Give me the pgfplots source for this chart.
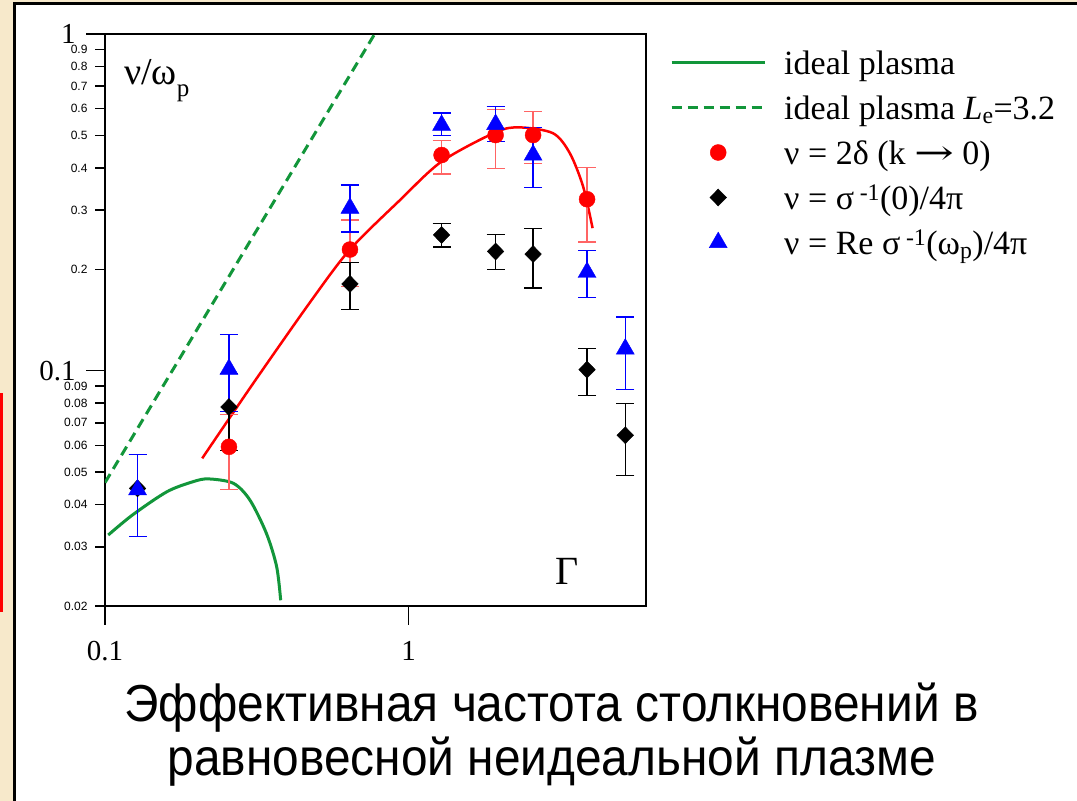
\documentclass[border=0pt]{standalone}
\usepackage{pgfplots}
\pgfplotsset{compat=1.18}
\usepackage{fontspec}
\setmainfont{Liberation Serif}
\newfontfamily\sans{Liberation Sans}
\newfontfamily\dejavu{DejaVu Serif}
\newfontfamily\narrow[FakeStretch=0.92]{Liberation Sans}
\definecolor{bgbeige}{RGB}{247,233,203}
\definecolor{pgreen}{RGB}{18,150,58}
\definecolor{lred}{RGB}{255,100,100}

\pgfplotstableread{
x y ep em
0.256 0.0594 0.0147 0.0151
0.641 0.229 0.051 0.051
1.284 0.437 0.046 0.053
1.934 0.501 0.096 0.103
2.57 0.501 0.088 0.089
3.87 0.323 0.078 0.082
}\redpts
\pgfplotstableread{
x y ep em
0.128 0.0447 0.0118 0.0126
0.256 0.0780 0.020 0.020
0.641 0.181 0.029 0.029
1.284 0.253 0.020 0.020
1.934 0.226 0.028 0.026
2.57 0.222 0.043 0.046
3.87 0.1007 0.0159 0.0165
5.17 0.0643 0.0155 0.0154
}\blackpts
\pgfplotstableread{
x y ep em
0.128 0.0443 0.0122 0.0122
0.256 0.101 0.0273 0.0254
0.641 0.304 0.052 0.046
1.284 0.536 0.047 0.037
1.934 0.539 0.070 0.060
2.57 0.437 0.091 0.087
3.87 0.196 0.032 0.031
5.17 0.116 0.0283 0.0279
}\bluepts

\begin{document}
\begin{tikzpicture}[x=1pt,y=1pt]
\useasboundingbox (0,0) rectangle (1077,801);
\fill[bgbeige] (0,0) rectangle (1077,801);
\fill[white] (14.5,0) rectangle (1077,797.5);
\draw[line width=3pt] (14.5,0) -- (14.5,797.5) -- (1077,797.5);
\fill[red] (0,189.3) rectangle (3.3,408.3);
\begin{axis}[
  at={(105pt,195pt)}, anchor=south west,
  width=541pt, height=572pt, scale only axis,
  xmode=log, ymode=log,
  xmin=0.1, xmax=6.05, ymin=0.02, ymax=1,
  axis line style={line width=1.6pt},
  tick align=outside, xtick pos=bottom, ytick pos=left,
  every tick/.style={black, line width=1.6pt},
  major tick length=10pt, minor tick length=10pt,
  xtick=\empty,
  minor xtick={0.2,0.3,0.4,0.5,0.6,0.7,0.8,0.9,2,3,4,5,6},
  extra x ticks={0.1,1}, extra x tick labels={0.1,1},
  extra x tick style={major tick length=19pt,
    xticklabel style={font=\fontsize{29}{29}\selectfont, yshift=-13pt}},
  ytick={0.02,0.03,0.04,0.05,0.06,0.07,0.08,0.09,0.2,0.3,0.4,0.5,0.6,0.7,0.8,0.9},
  yticklabels={0.02,0.03,0.04,0.05,0.06,0.07,0.08,0.09,0.2,0.3,0.4,0.5,0.6,0.7,0.8,0.9},
  yticklabel style={font=\sans\fontsize{12}{12}\selectfont, xshift=-4pt},
  extra y ticks={0.1,1}, extra y tick labels={0.1,1},
  extra y tick style={major tick length=19pt,
    yticklabel style={font=\rmfamily\fontsize{29}{29}\selectfont, xshift=-3pt}},
  legend image code/.code={\draw[mark repeat=2,mark phase=2,#1] plot coordinates {(0pt,4pt)(46.5pt,4pt)(93pt,4pt)};},
  legend style={draw=none, fill=none, at={(1.0444,0.975)}, anchor=north west,
    font=\fontsize{34}{40}\selectfont, row sep=9pt, column sep=16pt,
    inner sep=0pt, nodes={text height=24pt, text depth=8pt}},
  legend cell align=left,
  clip=true,
]
\addplot[pgreen, line width=3pt, smooth] coordinates {
(0.1025,0.0325) (0.1233,0.0373) (0.160,0.0437) (0.195,0.0468) (0.219,0.0477)
(0.2646,0.0463) (0.300,0.0413) (0.340,0.0329) (0.3675,0.0262) (0.379,0.0208)};
\addlegendentry{ideal plasma}
\addplot[pgreen, line width=3pt, dash pattern=on 10pt off 6pt] coordinates {
(0.1,0.0465) (0.77,0.994)};
\addlegendentry{ideal plasma \textit{L}\textsubscript{e}=3.2}
\addplot[red, line width=2.5pt, smooth, forget plot] coordinates {
(0.209,0.0549) (0.308,0.0918) (0.479,0.162) (0.641,0.229) (0.936,0.321)
(1.284,0.418) (1.938,0.511) (2.326,0.528) (2.993,0.507) (3.398,0.442)
(3.757,0.352) (4.035,0.265)};
\addplot[only marks, mark=*, mark size=8pt, red, mark options={fill=red, draw=red},
  error bars/.cd, y dir=both, y explicit, error mark=-,
  error bar style={lred, line width=1.3pt},
  error mark options={lred, line width=1.3pt, mark size=9pt, rotate=90}]
  table[x=x, y=y, y error plus=ep, y error minus=em] {\redpts};
\addlegendentry{ν = 2δ (k \scalebox{1.4}[1]{\dejavu →} 0)}
\addplot[only marks, mark=diamond*, mark size=8.5pt, black, mark options={fill=black, xscale=1.3},
  error bars/.cd, y dir=both, y explicit, error mark=-,
  error bar style={black, line width=1.3pt},
  error mark options={black, line width=1.3pt, mark size=9pt, rotate=90}]
  table[x=x, y=y, y error plus=ep, y error minus=em] {\blackpts};
\addlegendentry{ν = σ\,\textsuperscript{-1}(0)/4π}
\addplot[only marks, mark=triangle*, mark size=10.4pt, blue, mark options={fill=blue},
  error bars/.cd, y dir=both, y explicit, error mark=-,
  error bar style={blue, line width=1.3pt},
  error mark options={blue, line width=1.3pt, mark size=9pt, rotate=90}]
  table[x=x, y=y, y error plus=ep, y error minus=em] {\bluepts};
\addlegendentry{ν = Re σ\,\textsuperscript{-1}(ω\textsubscript{p})/4π}
\end{axis}
\node[anchor=base west, inner sep=0pt] at (124,716) {\fontsize{38}{38}\selectfont ν/ω\raisebox{-12pt}{\fontsize{25}{25}\selectfont p}};
\node[anchor=base west, inner sep=0pt] at (555,216) {\fontsize{40}{40}\selectfont Γ};
\node[anchor=base, inner sep=0pt] at (551.5,79.3) {\narrow\fontsize{52}{52}\selectfont Эффективная частота столкновений в};
\node[anchor=base, inner sep=0pt] at (551.7,25) {\narrow\fontsize{52}{52}\selectfont равновесной неидеальной плазме};
\end{tikzpicture}
\end{document}
